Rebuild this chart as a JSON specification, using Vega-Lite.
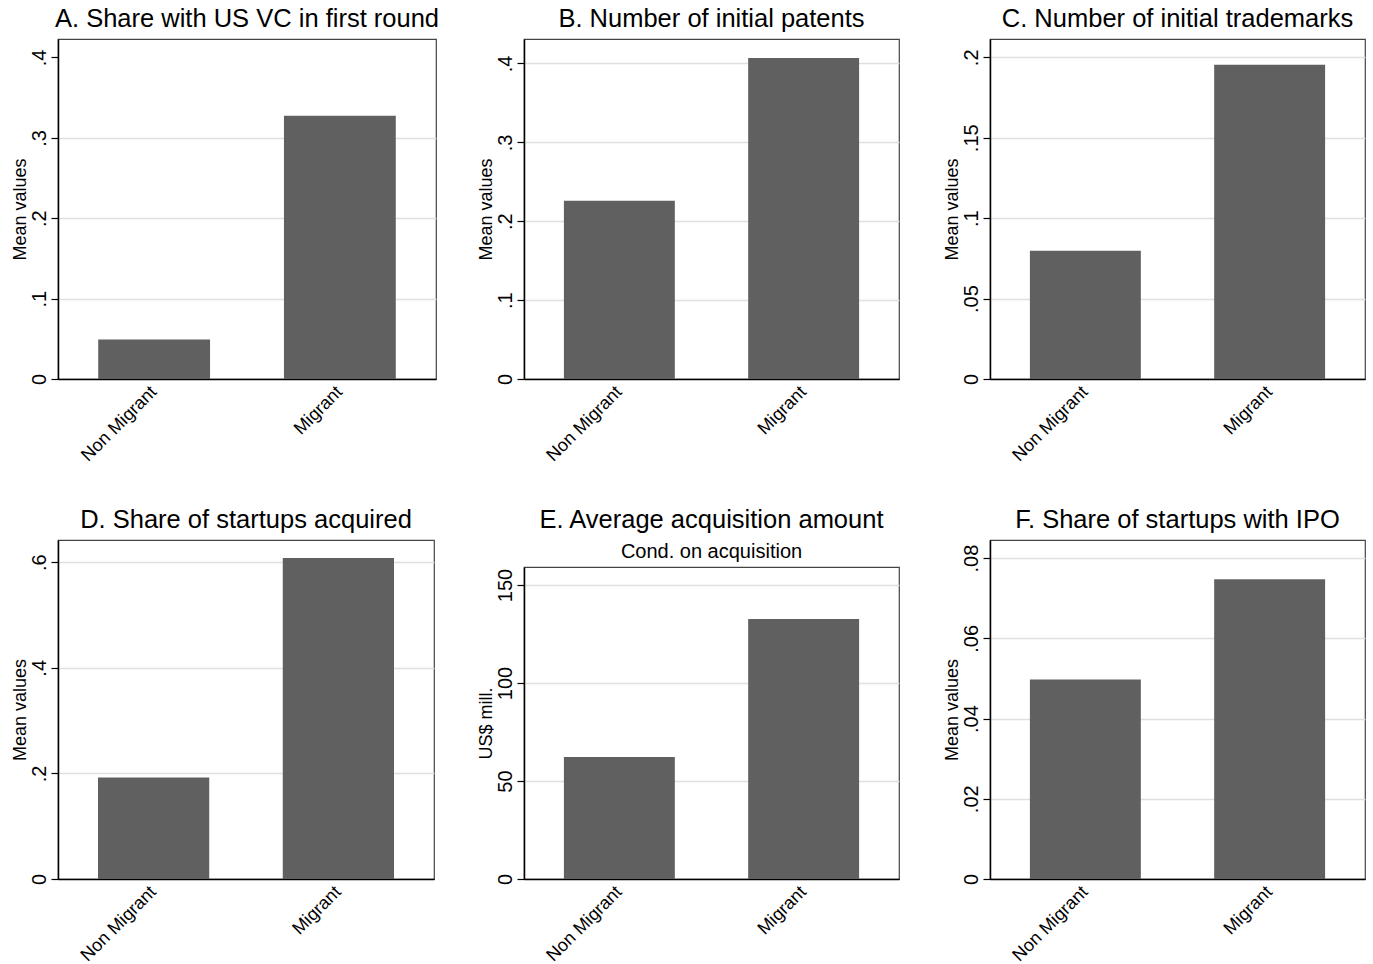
{
  "$schema": "https://vega.github.io/schema/vega-lite/v6.json",
  "background": "white",
  "padding": {"left": 10, "top": 5, "right": 0, "bottom": 0},
  "data": {
    "values": [
      {"panel": "A", "group": "Non Migrant", "value": 0.049},
      {"panel": "A", "group": "Migrant", "value": 0.3275},
      {"panel": "B", "group": "Non Migrant", "value": 0.2258},
      {"panel": "B", "group": "Migrant", "value": 0.407},
      {"panel": "C", "group": "Non Migrant", "value": 0.0797},
      {"panel": "C", "group": "Migrant", "value": 0.1954},
      {"panel": "D", "group": "Non Migrant", "value": 0.192},
      {"panel": "D", "group": "Migrant", "value": 0.608},
      {"panel": "E", "group": "Non Migrant", "value": 62.3},
      {"panel": "E", "group": "Migrant", "value": 132.7},
      {"panel": "F", "group": "Non Migrant", "value": 0.0497},
      {"panel": "F", "group": "Migrant", "value": 0.0747}
    ]
  },
  "columns": 3,
  "align": {"row": "none", "column": "all"},
  "spacing": {"column": 36, "row": 40},
  "concat": [
    {
      "title": "A. Share with US VC in first round",
      "width": 378, "height": 340,
      "transform": [{"filter": "datum.panel === 'A'"}],
      "mark": {"type": "bar", "color": "#606060"},
      "encoding": {
        "x": {"field": "group", "type": "nominal", "sort": ["Non Migrant", "Migrant"], "scale": {"paddingInner": 0.398, "paddingOuter": 0.2165}, "axis": {"title": null}},
        "y": {"field": "value", "type": "quantitative", "scale": {"domain": [0, 0.423], "nice": false}, "axis": {"title": "Mean values", "values": [0, 0.1, 0.2, 0.3, 0.4], "gridOpacity": {"condition": {"test": "datum.value === 0 || datum.value === 0.4", "value": 0}, "value": 1}}}
      }
    },
    {
      "title": "B. Number of initial patents",
      "width": 375, "height": 340,
      "transform": [{"filter": "datum.panel === 'B'"}],
      "mark": {"type": "bar", "color": "#606060"},
      "encoding": {
        "x": {"field": "group", "type": "nominal", "sort": ["Non Migrant", "Migrant"], "scale": {"paddingInner": 0.398, "paddingOuter": 0.2165}, "axis": {"title": null}},
        "y": {"field": "value", "type": "quantitative", "scale": {"domain": [0, 0.431], "nice": false}, "axis": {"title": "Mean values", "values": [0, 0.1, 0.2, 0.3, 0.4], "gridOpacity": {"condition": {"test": "datum.value === 0", "value": 0}, "value": 1}}}
      }
    },
    {
      "title": "C. Number of initial trademarks",
      "width": 375, "height": 340,
      "transform": [{"filter": "datum.panel === 'C'"}],
      "mark": {"type": "bar", "color": "#606060"},
      "encoding": {
        "x": {"field": "group", "type": "nominal", "sort": ["Non Migrant", "Migrant"], "scale": {"paddingInner": 0.398, "paddingOuter": 0.2165}, "axis": {"title": null}},
        "y": {"field": "value", "type": "quantitative", "scale": {"domain": [0, 0.2114], "nice": false}, "axis": {"title": "Mean values", "values": [0, 0.05, 0.1, 0.15, 0.2], "gridOpacity": {"condition": {"test": "datum.value === 0", "value": 0}, "value": 1}}}
      }
    },
    {
      "title": "D. Share of startups acquired",
      "width": 376, "height": 339,
      "transform": [{"filter": "datum.panel === 'D'"}],
      "mark": {"type": "bar", "color": "#606060"},
      "encoding": {
        "x": {"field": "group", "type": "nominal", "sort": ["Non Migrant", "Migrant"], "scale": {"paddingInner": 0.398, "paddingOuter": 0.2165}, "axis": {"title": null}},
        "y": {"field": "value", "type": "quantitative", "scale": {"domain": [0, 0.642], "nice": false}, "axis": {"title": "Mean values", "values": [0, 0.2, 0.4, 0.6], "gridOpacity": {"condition": {"test": "datum.value === 0", "value": 0}, "value": 1}}}
      }
    },
    {
      "title": {"text": "E. Average acquisition amount", "subtitle": "Cond. on acquisition", "offset": 5, "subtitlePadding": 9},
      "width": 375, "height": 312,
      "transform": [{"filter": "datum.panel === 'E'"}],
      "mark": {"type": "bar", "color": "#606060"},
      "encoding": {
        "x": {"field": "group", "type": "nominal", "sort": ["Non Migrant", "Migrant"], "scale": {"paddingInner": 0.398, "paddingOuter": 0.2165}, "axis": {"title": null}},
        "y": {"field": "value", "type": "quantitative", "scale": {"domain": [0, 159.2], "nice": false}, "axis": {"title": "US$ mill.", "values": [0, 50, 100, 150], "gridOpacity": {"condition": {"test": "datum.value === 0", "value": 0}, "value": 1}}}
      }
    },
    {
      "title": "F. Share of startups with IPO",
      "width": 375, "height": 339,
      "transform": [{"filter": "datum.panel === 'F'"}],
      "mark": {"type": "bar", "color": "#606060"},
      "encoding": {
        "x": {"field": "group", "type": "nominal", "sort": ["Non Migrant", "Migrant"], "scale": {"paddingInner": 0.398, "paddingOuter": 0.2165}, "axis": {"title": null}},
        "y": {"field": "value", "type": "quantitative", "scale": {"domain": [0, 0.0845], "nice": false}, "axis": {"title": "Mean values", "values": [0, 0.02, 0.04, 0.06, 0.08], "gridOpacity": {"condition": {"test": "datum.value === 0", "value": 0}, "value": 1}}}
      }
    }
  ],
  "resolve": {"scale": {"y": "independent", "x": "independent"}},
  "config": {
    "font": "Liberation Sans",
    "view": {"stroke": "#444444", "strokeWidth": 1.2},
    "axisY": {
      "tickSize": 7, "tickColor": "#000000", "tickWidth": 1.2,
      "domainColor": "#000000", "domainWidth": 1.5,
      "labelAngle": -90, "labelFontSize": 20, "labelColor": "#000000", "labelPadding": 2,
      "labelExpr": "replace(format(datum.value, '~g'), '0.', '.')",
      "titleFontSize": 18, "titleFontWeight": "normal", "titleColor": "#000000", "titlePadding": 0,
      "grid": true, "gridColor": "#e0e0e0", "gridWidth": 1.5
    },
    "axisX": {
      "ticks": false, "domainColor": "#000000", "domainWidth": 1.5,
      "labelAngle": -45, "labelFontSize": 18, "labelColor": "#000000", "labelPadding": 10,
      "labelBaseline": "middle", "labelAlign": "right",
      "grid": false
    },
    "title": {
      "fontSize": 25.5, "fontWeight": "normal", "color": "#000000", "anchor": "middle",
      "subtitleFontSize": 20, "subtitleColor": "#000000", "offset": 7
    }
  }
}
